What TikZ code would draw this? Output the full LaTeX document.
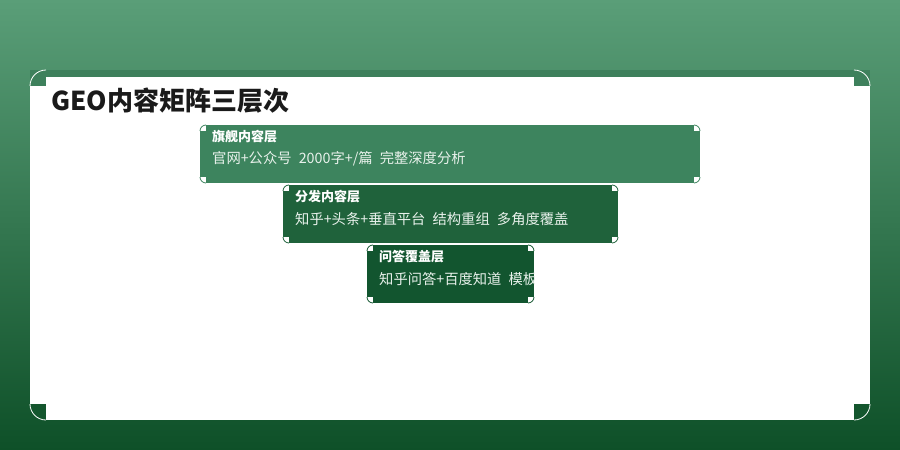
\documentclass[tikz,border=0pt]{standalone}
\usepackage{fontspec}
\setmainfont{Noto Sans CJK SC}
\usetikzlibrary{positioning}

\definecolor{bgtop}{RGB}{90,158,120}
\definecolor{bgbottom}{RGB}{14,80,40}
\definecolor{band}{RGB}{62,128,92}
\definecolor{layerone}{RGB}{61,132,94}
\definecolor{layertwo}{RGB}{31,98,59}
\definecolor{layerthree}{RGB}{18,85,47}
\definecolor{titleink}{RGB}{26,26,26}
\definecolor{bodyink}{RGB}{232,241,235}

\newcommand{\colgap}{\hspace{0.5em}}
% square notches with a rounded outline at the four corners of a node
\newcommand{\cornernotch}[5]{%
    \fill[#3] (#1.north west) rectangle ++(#2,#2);
    \fill[#3] (#1.north east) rectangle ++(-#2,#2);
    \fill[#4] (#1.south west) rectangle ++(#2,-#2);
    \fill[#4] (#1.south east) rectangle ++(-#2,-#2);
    \draw[#5,line width=0.8pt,rounded corners=#2pt] ([yshift=-#2pt]#1.north west) -- (#1.north west) -- ([xshift=#2pt]#1.north west);
    \draw[#5,line width=0.8pt,rounded corners=#2pt] ([yshift=-#2pt]#1.north east) -- (#1.north east) -- ([xshift=-#2pt]#1.north east);
    \draw[#5,line width=0.8pt,rounded corners=#2pt] ([yshift=#2pt]#1.south west) -- (#1.south west) -- ([xshift=#2pt]#1.south west);
    \draw[#5,line width=0.8pt,rounded corners=#2pt] ([yshift=#2pt]#1.south east) -- (#1.south east) -- ([xshift=-#2pt]#1.south east);
}

\tikzset{
    layerbox/.style={inner sep=0, outer sep=0, anchor=north west, minimum height=58pt},
    layerhead/.style={anchor=west, inner sep=0, text=white, font=\bfseries\fontsize{13}{15}\selectfont},
    layerbody/.style={anchor=west, inner sep=0, text=bodyink, font=\fontsize{14.3}{17}\selectfont}
}

\begin{document}
\begin{tikzpicture}[x=1pt,y=-1pt]
    \useasboundingbox (0,0) rectangle (900,450);
    \shade[top color=bgtop, bottom color=bgbottom] (0,0) rectangle (900,450);

    % white card
    \node[fill=white, inner sep=0, outer sep=0, anchor=north west, minimum width=840pt, minimum height=350pt] (card) at (30,70) {};
    \fill[band] (card.north west) rectangle ([yshift=-7pt]card.north east);
    \cornernotch{card}{16}{band}{bgbottom!92!bgtop}{white}

    \node[layerhead, anchor=west, text=titleink, font=\bfseries\fontsize{26}{30}\selectfont] (title) at (51,101) {GEO内容矩阵三层次};

    \foreach \i/\lft/\tp/\bw/\col/\headtext/\bodytext in {
        1/200/125/500/layerone/旗舰内容层/{官网+公众号\colgap 2000字+/篇\colgap 完整深度分析},
        2/283/185/335/layertwo/分发内容层/{知乎+头条+垂直平台\colgap 结构重组\colgap 多角度覆盖},
        3/367/245/167/layerthree/问答覆盖层/{知乎问答+百度知道\colgap 模板}} {
        \node[layerbox, fill=\col, minimum width=\bw pt] (layer\i) at (\lft,\tp) {};
        \begin{scope}
            \clip (layer\i.south west) rectangle (layer\i.north east);
            \node[layerhead] (layer\i-head) at ([xshift=12pt,yshift=-12pt]layer\i.north west) {\headtext};
            \node[layerbody] (layer\i-body) at ([xshift=12pt,yshift=-34pt]layer\i.north west) {\bodytext};
        \end{scope}
        \cornernotch{layer\i}{6}{white}{white}{\col}
    }
\end{tikzpicture}
\end{document}
